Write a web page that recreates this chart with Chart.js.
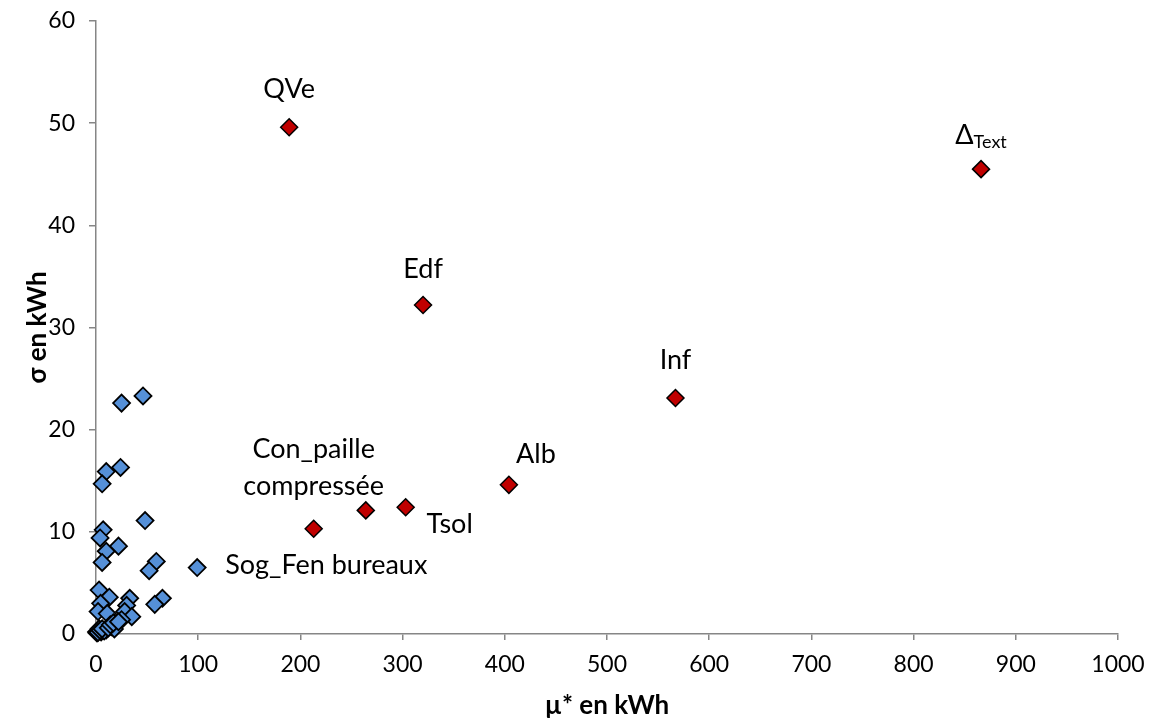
<!DOCTYPE html>
<html><head><meta charset="utf-8">
<script src="https://cdn.jsdelivr.net/npm/chart.js@4/dist/chart.umd.min.js"></script>
<style>html,body{margin:0;padding:0;background:#fff}#wrap{width:1152px;height:727px}</style>
</head><body><div id="wrap"><canvas id="c" width="1152" height="727"></canvas></div>
<script>
// Blue series: other parameters (mu*, sigma) in kWh
const blueX = [25, 46, 10, 24, 6, 48, 7, 4, 22, 10, 6, 59, 52, 99, 3, 13, 33, 65, 57.5, 4.5, 2, 11, 30, 28, 35, 25, 20, 15, 10, 5, 0.5, 1, 8, 18, 3, 2, 4, 6, 12, 14, 17, 22];
const blueY = [22.6, 23.3, 15.9, 16.3, 14.7, 11.1, 10.2, 9.4, 8.6, 8.1, 7.0, 7.1, 6.2, 6.5, 4.3, 3.6, 3.5, 3.5, 2.9, 3.0, 2.2, 2.0, 2.8, 2.2, 1.7, 1.4, 1.0, 0.7, 0.4, 0.2, 0.2, 0.1, 0.3, 0.5, 0.5, 0.15, 0.35, 0.5, 0.6, 0.9, 1.1, 1.2];
const blueNames = blueX.map((v, i) => i === 13 ? 'Sog_Fen bureaux' : '');
// Red series: most influential parameters
const redX = [189, 866, 320, 567, 404, 303, 264, 213];
const redY = [49.6, 45.5, 32.2, 23.1, 14.6, 12.4, 12.1, 10.3];
const redNames = ['QVe', 'ΔText', 'Edf', 'Inf', 'Alb', 'Tsol', '', 'Con_paille\ncompressée'];
const xTicks = [0, 100, 200, 300, 400, 500, 600, 700, 800, 900, 1000];
const yTicks = [0, 10, 20, 30, 40, 50, 60];
const xTitle = 'µ* en kWh';
const yTitle = 'σ en kWh';

// label placement (pixel offsets from the point), kept separate from data
const labelPlace = {
  'QVe': {dx: 0, dy: -38, align: 'center'},
  'ΔText': {dx: 0, dy: -34, align: 'center'},
  'Edf': {dx: 0, dy: -36, align: 'center'},
  'Inf': {dx: 0, dy: -38, align: 'center'},
  'Alb': {dx: 27, dy: -31, align: 'center'},
  'Tsol': {dx: 44, dy: 17, align: 'center'},
  'Con_paille\ncompressée': {dx: 0, dy: -42, align: 'center', lh: 37},
  'Sog_Fen bureaux': {dx: 28, dy: -2, align: 'left'}
};
const LABEL_FONT = '27px Lato';
const SUB_FONT = '18px Lato';

const labelPlugin = {
  id: 'pointLabels',
  afterDatasetsDraw(chart) {
    const ctx = chart.ctx;
    ctx.save();
    ctx.fillStyle = '#000';
    ctx.textBaseline = 'middle';
    chart.data.datasets.forEach((ds, di) => {
      const meta = chart.getDatasetMeta(di);
      ds.names.forEach((name, i) => {
        if (!name) return;
        const p = meta.data[i];
        const pl = labelPlace[name] || {dx: 0, dy: -35, align: 'center'};
        const x = p.x + pl.dx, y = p.y + pl.dy;
        ctx.font = LABEL_FONT;
        if (name === 'ΔText') {
          const big = 'Δ', small = 'Text';
          ctx.font = LABEL_FONT;
          const wb = ctx.measureText(big).width;
          ctx.font = SUB_FONT;
          const ws = ctx.measureText(small).width;
          const x0 = x - (wb + ws) / 2;
          ctx.textAlign = 'left';
          ctx.font = LABEL_FONT;
          ctx.fillText(big, x0, y);
          ctx.font = SUB_FONT;
          ctx.fillText(small, x0 + wb, y + 7);
          return;
        }
        ctx.textAlign = pl.align;
        const lines = name.split('\n');
        const lh = pl.lh || 30;
        lines.forEach((ln, k) => {
          ctx.fillText(ln, x, y - (lines.length - 1 - k) * lh);
        });
      });
    });
    ctx.restore();
  }
};

const toPts = (xs, ys) => xs.map((x, i) => ({x: x, y: ys[i]}));

new Chart(document.getElementById('c'), {
  type: 'scatter',
  data: {
    datasets: [
      {
        data: toPts(blueX, blueY), names: blueNames, clip: false,
        pointStyle: 'rectRot', pointRadius: 8.5, pointHoverRadius: 8.5,
        backgroundColor: '#5590D8', borderColor: '#000', pointBorderWidth: 1.8
      },
      {
        data: toPts(redX, redY), names: redNames, clip: false,
        pointStyle: 'rectRot', pointRadius: 8.5, pointHoverRadius: 8.5,
        backgroundColor: '#C00000', borderColor: '#000', pointBorderWidth: 1.5
      }
    ]
  },
  options: {
    responsive: false,
    devicePixelRatio: 1,
    animation: false,
    layout: {padding: {top: 21, right: 34, left: 0, bottom: 0}},
    plugins: {legend: {display: false}, tooltip: {enabled: false}},
    scales: {
      x: {
        type: 'linear', min: 0, max: 1000,
        afterBuildTicks: s => { s.ticks = xTicks.map(v => ({value: v})); },
        afterFit: s => { s.height = 93; s.paddingLeft = 0; s.paddingRight = 0; },
        ticks: {color: '#000', font: {family: 'Lato', size: 23}, padding: 11, callback: v => String(v)},
        grid: {drawOnChartArea: false, drawTicks: true, tickLength: 6, color: '#868686', lineWidth: 1.5},
        border: {color: '#868686', width: 1.5},
        title: {display: true, text: xTitle, color: '#000', font: {family: 'Lato', size: 26, weight: 'bold'}, padding: {top: 0, bottom: 6}}
      },
      y: {
        type: 'linear', min: 0, max: 60,
        afterBuildTicks: s => { s.ticks = yTicks.map(v => ({value: v})); },
        afterFit: s => { s.width = 96; s.paddingTop = 0; s.paddingBottom = 0; },
        ticks: {color: '#000', font: {family: 'Lato', size: 23}, padding: 14, callback: v => String(v)},
        grid: {drawOnChartArea: false, drawTicks: true, tickLength: 7, color: '#868686', lineWidth: 1.5},
        border: {color: '#868686', width: 1.5},
        title: {display: true, text: yTitle, color: '#000', font: {family: 'Lato', size: 26, weight: 'bold'}, padding: {top: 22, bottom: 0}}
      }
    }
  },
  plugins: [labelPlugin]
});
</script>
</body></html>
